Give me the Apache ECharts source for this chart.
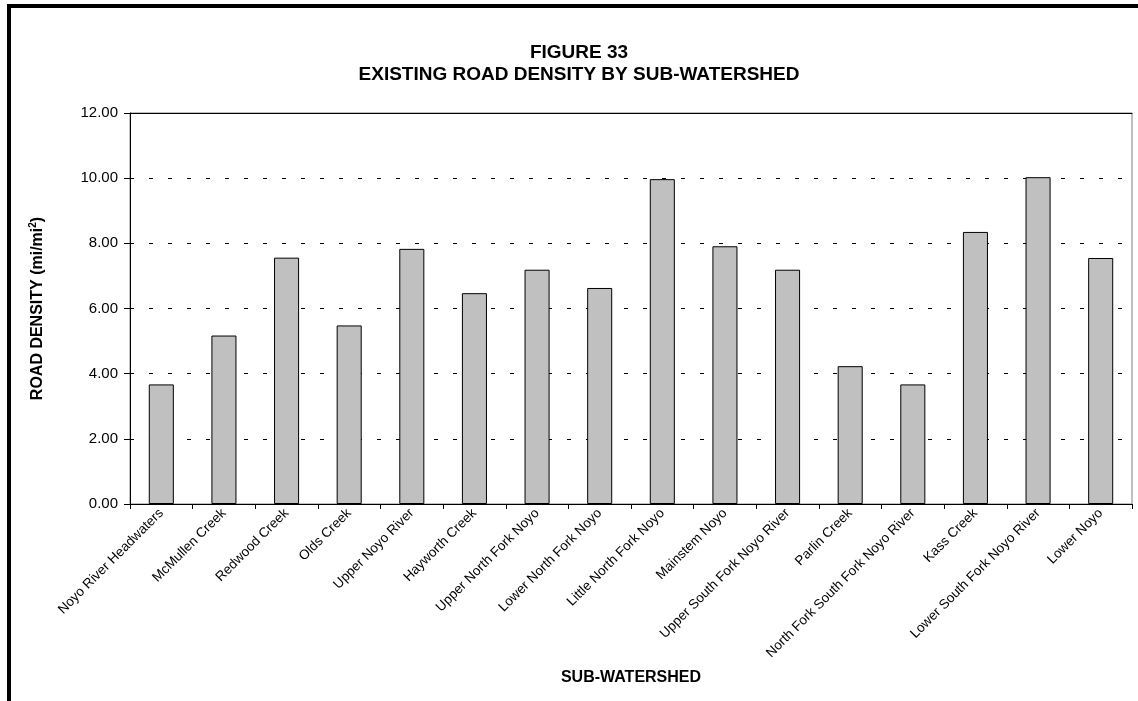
<!DOCTYPE html>
<html>
<head>
<meta charset="utf-8">
<script src="https://cdn.jsdelivr.net/npm/echarts@6/dist/echarts.min.js"></script>
<style>
html,body{margin:0;padding:0;background:#fff;}
#chart{position:absolute;left:0;top:0;width:1138px;height:701px;}
#frame{position:absolute;left:7px;top:4px;width:1200px;height:800px;border-left:4px solid #000;border-top:4px solid #000;pointer-events:none;}
</style>
</head>
<body>
<div id="chart"></div>
<div id="frame"></div>
<script>
const categories = [
  'Noyo River Headwaters','McMullen Creek','Redwood Creek','Olds Creek','Upper Noyo River',
  'Hayworth Creek','Upper North Fork Noyo','Lower North Fork Noyo','Little North Fork Noyo',
  'Mainstem Noyo','Upper South Fork Noyo River','Parlin Creek','North Fork South Fork Noyo River',
  'Kass Creek','Lower South Fork Noyo River','Lower Noyo'
];
const density = [3.67, 5.17, 7.56, 5.48, 7.83, 6.47, 7.19, 6.63, 9.97, 7.91, 7.19, 4.23, 3.67, 8.35, 10.03, 7.55];
const titleLines = ['FIGURE 33', 'EXISTING ROAD DENSITY BY SUB-WATERSHED'];
const yAxisTitle = 'ROAD DENSITY';
const xAxisTitle = 'SUB-WATERSHED';

const chart = echarts.init(document.getElementById('chart'));
const font = 'Arial, "Liberation Sans", sans-serif';
chart.setOption({
  animation: false,
  backgroundColor: '#fff',
  textStyle: { fontFamily: font, color: '#000' },
  title: {
    text: titleLines.join('\n'),
    left: 574, top: 37, textAlign: 'center',
    textStyle: { fontFamily: font, fontSize: 19, fontWeight: 'bold', color: '#000', lineHeight: 22 }
  },
  grid: { left: 130, right: 6, top: 113, bottom: 197, show: true, borderColor: '#808080', borderWidth: 1, backgroundColor: 'transparent' },
  xAxis: [{
    type: 'category',
    data: categories,
    name: xAxisTitle,
    nameLocation: 'middle',
    nameGap: 166,
    nameTextStyle: { fontFamily: font, fontSize: 16, fontWeight: 'bold', color: '#000' },
    axisLine: { lineStyle: { color: '#000', width: 1 } },
    axisTick: { show: true, length: 5, lineStyle: { color: '#000' } },
    axisLabel: { interval: 0, rotate: 45, fontSize: 13.5, margin: 7, color: '#000', fontFamily: font },
    splitLine: { show: false }
  }, {
    type: 'category',
    position: 'top',
    data: categories,
    axisLine: { lineStyle: { color: '#000', width: 1 } },
    axisTick: { show: false },
    axisLabel: { show: false }
  }],
  yAxis: {
    type: 'value',
    min: 0, max: 12, interval: 2,
    name: '{a|' + yAxisTitle + ' (mi/mi}{s|2}{a|)}',
    nameLocation: 'middle',
    nameGap: 82,
    nameTextStyle: {
      rich: {
        a: { fontFamily: font, fontSize: 16, fontWeight: 'bold', color: '#000', lineHeight: 20 },
        s: { fontFamily: font, fontSize: 10, fontWeight: 'bold', color: '#000', verticalAlign: 'top', lineHeight: 20 }
      }
    },
    axisLine: { show: true, lineStyle: { color: '#000', width: 1 } },
    axisTick: { show: true, length: 6, lineStyle: { color: '#000' } },
    axisLabel: { fontSize: 15, margin: 12, color: '#000', fontFamily: font, formatter: v => v.toFixed(2) },
    splitLine: { show: true, lineStyle: { color: '#000', type: [4, 15], width: 1 } }
  },
  series: [{
    type: 'bar',
    data: density,
    barWidth: '40%',
    itemStyle: { color: '#c0c0c0', borderColor: '#000', borderWidth: 1 }
  }]
});
</script>
</body>
</html>
